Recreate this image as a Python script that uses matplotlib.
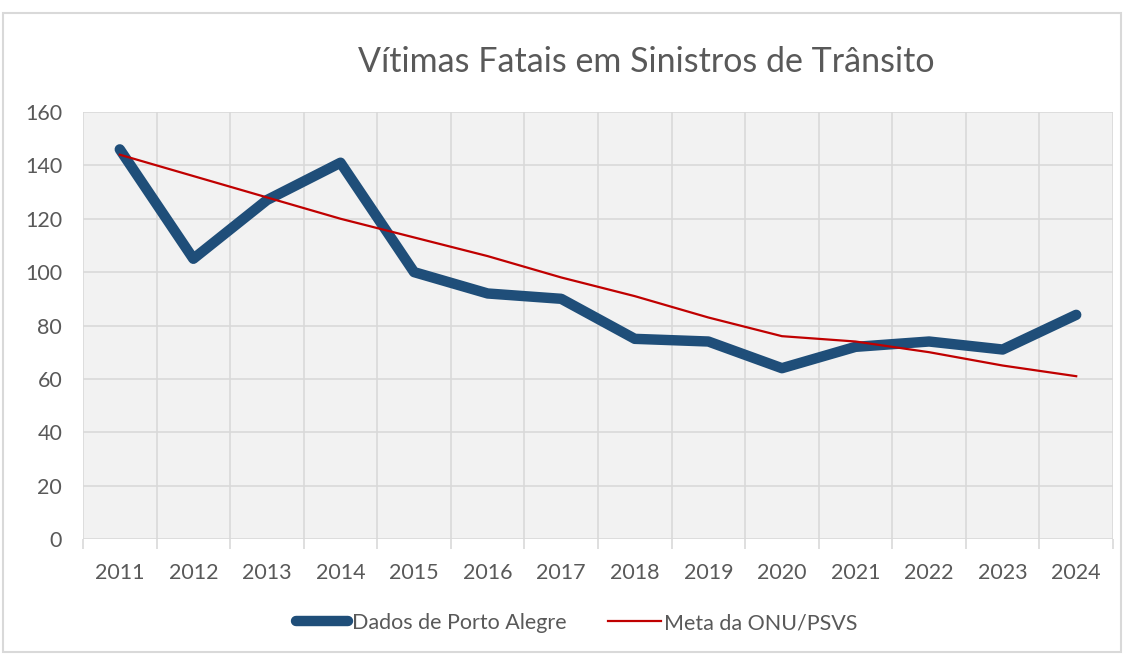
import matplotlib
matplotlib.use("Agg")
import matplotlib.pyplot as plt
from matplotlib.patches import Rectangle
from matplotlib.lines import Line2D

years = ["2011", "2012", "2013", "2014", "2015", "2016", "2017",
         "2018", "2019", "2020", "2021", "2022", "2023", "2024"]
poa = [146, 105, 127, 141, 100, 92, 90, 75, 74, 64, 72, 74, 71, 84]
meta = [144, 136, 128, 120, 113, 106, 98, 91, 83, 76, 74, 70, 65, 61]
yticks = [0, 20, 40, 60, 80, 100, 120, 140, 160]

plt.rcParams['font.family'] = ['Lato', 'DejaVu Sans']
W, H = 1131, 655
fig = plt.figure(figsize=(W / 100, H / 100), dpi=100)
fig.patch.set_facecolor("white")

# outer chart border
fig.add_artist(Rectangle((3 / W, 1 - 652 / H), (1121 - 3) / W, (652 - 13) / H,
                         transform=fig.transFigure, fill=False,
                         edgecolor="#D9D9D9", linewidth=1.5))

ax = fig.add_axes([83 / W, 1 - 539 / H, (1113 - 83) / W, (539 - 112) / H])
ax.set_facecolor("#F2F2F2")

x = list(range(len(years)))
ax.plot(x, poa, color="#1F4E79", linewidth=7.5, solid_capstyle="round",
        solid_joinstyle="round", zorder=3)
ax.plot(x, meta, color="#C00000", linewidth=1.6, zorder=4)

ax.set_xlim(-0.5, len(years) - 0.5)
ax.set_ylim(0, 160)
ax.set_yticks(yticks)
ax.set_yticklabels([str(v) for v in yticks])
ax.set_xticks(x)
ax.set_xticklabels(years)
ax.set_xticks([i - 0.5 for i in range(len(years) + 1)], minor=True)

ax.grid(True, axis="y", color="#D9D9D9", linewidth=1.2)
ax.grid(True, axis="x", which="minor", color="#D9D9D9", linewidth=1.2)
ax.grid(False, axis="x", which="major")
ax.set_axisbelow(True)
for s in ax.spines.values():
    s.set_visible(False)
ax.tick_params(axis="y", length=0, pad=15, labelsize=15.5, labelcolor="#595959")
ax.tick_params(axis="x", which="major", length=0, pad=17, labelsize=15.5,
               labelcolor="#595959")
ax.tick_params(axis="x", which="minor", length=7, color="#D9D9D9", width=1.2)

fig.text(646 / W, 1 - 62 / H, "Vítimas Fatais em Sinistros de Trânsito",
         ha="center", va="center", fontsize=24.5, color="#595959")

handles = [Line2D([], [], color="#1F4E79", linewidth=7.5, solid_capstyle="round"),
           Line2D([], [], color="#C00000", linewidth=1.6)]
fig.legend(handles, ["Dados de Porto Alegre", "Meta da ONU/PSVS"],
           loc="center", bbox_to_anchor=(576.5 / W, 1 - 623 / H), ncol=2,
           frameon=False, fontsize=15.5, labelcolor="#595959",
           handlelength=2.45, handletextpad=0.15, columnspacing=1.95)

fig.savefig("out.png", dpi=100)
